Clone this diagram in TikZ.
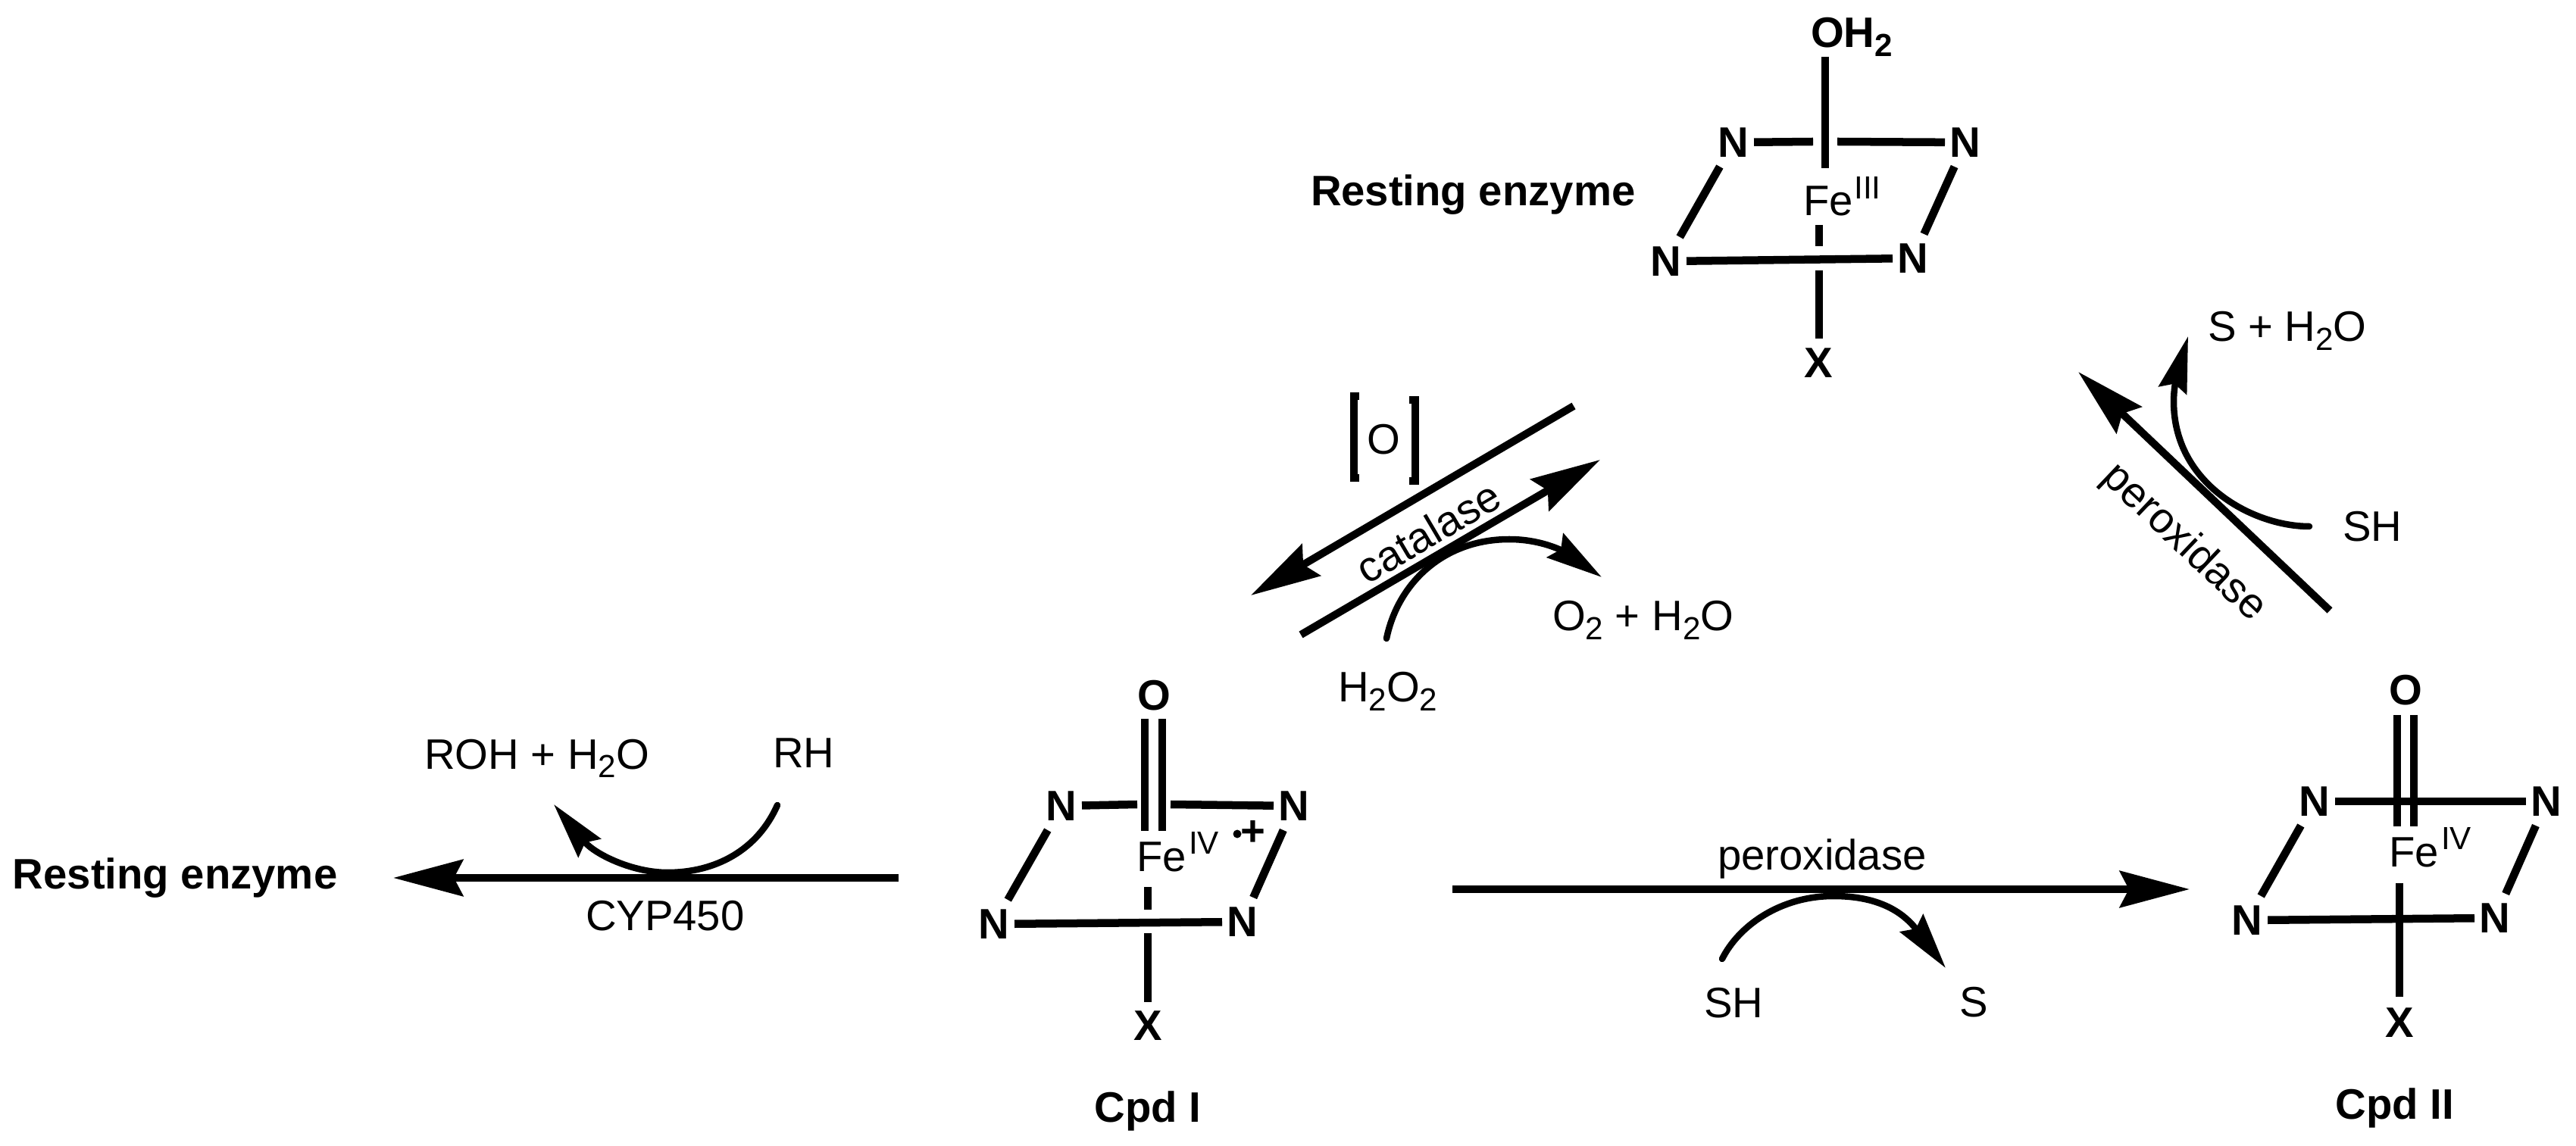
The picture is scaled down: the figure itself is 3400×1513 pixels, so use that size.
\documentclass[tikz,border=0pt]{standalone}
\usepackage{fontspec}
\setmainfont{Liberation Sans}
\usetikzlibrary{arrows.meta}
\newcommand{\sbs}[1]{\raisebox{-3.4pt}{\fontsize{12}{12}\selectfont #1}}
\newcommand{\sps}[1]{\raisebox{6.3pt}{\fontsize{12}{12}\selectfont #1}}
\tikzset{
  txt/.style={inner sep=0pt,outer sep=0pt,font=\fontsize{16}{19}\selectfont},
  lab/.style={txt,anchor=base west},
  atom/.style={txt,font=\fontsize{16}{19}\selectfont\bfseries},
  blab/.style={atom,anchor=base west},
  nat/.style={atom,minimum width=.54cm,minimum height=.64cm},
  bond/.style={line width=.105cm,line cap=butt},
  rxn/.style={line width=.10cm,line cap=butt,-{Stealth[length=.92cm,width=.48cm,inset=.12cm]}},
  curved/.style={line width=.085cm,line cap=round,-{Stealth[length=.74cm,width=.38cm,inset=.09cm]}},
  brk/.style={line width=.10cm,line cap=butt,line join=miter}
}
\begin{document}
\begin{tikzpicture}[x=0.01cm,y=-0.01cm]
\fill[white] (0,0) rectangle (3400,1513);
\useasboundingbox (0,0) rectangle (3400,1513);

% ---------- Resting enzyme (top)
\node[blab] (rlabel) at (1730,272) {Resting enzyme};
\node[blab] (rO) at (2390,63) {OH\sbs{2}};
\node[nat] (rTL) at (2288,188) {N};
\node[nat] (rTR) at (2594,188) {N};
\node[nat] (rBL) at (2199,345) {N};
\node[nat] (rBR) at (2525,341) {N};
\node[lab] (rFe) at (2380,285) {Fe\hspace{.5pt}\sps{III}};
\node[atom] (rX) at (2400,479) {X};
\coordinate (rA1) at (2409,75);  \coordinate (rA2) at (2409,222);
\coordinate (rG1) at (2393,187); \coordinate (rG2) at (2425,187);
\coordinate (rB1) at (2401,297); \coordinate (rB2) at (2401,325);
\coordinate (rC1) at (2401,357); \coordinate (rC2) at (2401,447);
\draw[bond] (rA1) -- (rA2);
\draw[bond] (rTL) -- (rG1);
\draw[bond] (rG2) -- (rTR);
\draw[bond] (rTL) -- (rBL);
\draw[bond] (rTR) -- (rBR);
\draw[bond] (rBL) -- (rBR);
\draw[bond] (rB1) -- (rB2);
\draw[bond] (rC1) -- (rC2);

% ---------- Cpd I
\node[atom] (aO) at (1523,918) {O};
\node[nat] (aTL) at (1401,1064) {N};
\node[nat] (aTR) at (1708,1064) {N};
\node[nat] (aBL) at (1312,1220) {N};
\node[nat] (aBR) at (1640,1217) {N};
\node[lab] (aFe) at (1500,1150) {Fe\hspace{1pt}\sps{IV}};
\node[atom] (aX) at (1515,1354) {X};
\node[atom,anchor=base] (alabel) at (1515,1481) {Cpd I};
\node[atom] (aPlus) at (1654,1100) {+};
\node[circle,fill=black,inner sep=0pt,minimum size=.11cm] (aDot) at (1633,1101) {};
\coordinate (aD1t) at (1511,949); \coordinate (aD1b) at (1511,1097);
\coordinate (aD2t) at (1534,949); \coordinate (aD2b) at (1534,1097);
\coordinate (aG1) at (1501,1062); \coordinate (aG2) at (1545,1062);
\coordinate (aB1) at (1515,1171); \coordinate (aB2) at (1515,1201);
\coordinate (aC1) at (1515,1232); \coordinate (aC2) at (1515,1323);
\draw[bond] (aD1t) -- (aD1b);
\draw[bond] (aD2t) -- (aD2b);
\draw[bond] (aTL) -- (aG1);
\draw[bond] (aG2) -- (aTR);
\draw[bond] (aTL) -- (aBL);
\draw[bond] (aTR) -- (aBR);
\draw[bond] (aBL) -- (aBR);
\draw[bond] (aB1) -- (aB2);
\draw[bond] (aC1) -- (aC2);

% ---------- Cpd II
\node[atom] (bO) at (3175,911) {O};
\node[nat] (bTL) at (3055,1058) {N};
\node[nat] (bTR) at (3361,1058) {N};
\node[nat] (bBL) at (2966,1215) {N};
\node[nat] (bBR) at (3293,1212) {N};
\node[lab] (bFe) at (3153,1144) {Fe\hspace{1pt}\sps{IV}};
\node[atom] (bX) at (3167,1350) {X};
\node[atom,anchor=base] (blabel) at (3161,1477) {Cpd II};
\coordinate (bD1t) at (3164,944); \coordinate (bD1b) at (3164,1091);
\coordinate (bD2t) at (3186,944); \coordinate (bD2b) at (3186,1091);
\coordinate (bC1) at (3167,1166); \coordinate (bC2) at (3167,1316);
\draw[bond] (bD1t) -- (bD1b);
\draw[bond] (bD2t) -- (bD2b);
\draw[bond] (bTL) -- (bTR);
\draw[bond] (bTL) -- (bBL);
\draw[bond] (bTR) -- (bBR);
\draw[bond] (bBL) -- (bBR);
\draw[bond] (bC1) -- (bC2);

% ---------- CYP450 branch
\node[blab] (lrest) at (17,1173) {Resting enzyme};
\node[lab] (roh) at (560,1015) {ROH + H\sbs{2}O};
\node[lab] (rh) at (1020,1013) {RH};
\node[lab] (cyp) at (773,1228) {CYP450};
\coordinate (c1s) at (1186,1159); \coordinate (c1e) at (519,1159);
\draw[rxn] (c1s) -- (c1e);
\coordinate (c2s) at (1026,1063); \coordinate (c2m) at (881,1152); \coordinate (c2e) at (731,1062);
\draw[curved] (c2s) .. controls (1000,1122) and (945,1152) .. (c2m) .. controls (835,1152) and (785,1128) .. (c2e);

% ---------- horizontal peroxidase branch
\node[txt,anchor=base] (plab) at (2405,1148) {peroxidase};
\node[lab] (sh1) at (2249,1343) {SH};
\node[lab] (s1) at (2586,1342) {S};
\coordinate (p1s) at (1917,1174); \coordinate (p1e) at (2890,1174);
\draw[rxn] (p1s) -- (p1e);
\coordinate (p2s) at (2273,1266); \coordinate (p2m) at (2420,1183); \coordinate (p2e) at (2568,1278);
\draw[curved] (p2s) .. controls (2295,1222) and (2350,1183) .. (p2m) .. controls (2465,1183) and (2505,1195) .. (p2e);

% ---------- catalase branch
\node[txt,rotate=30.5] (cat) at (1885,702) {catalase};
\node[txt] (oo) at (1826,580) {O};
\node[lab] (h2o2) at (1766,927) {H\sbs{2}O\sbs{2}};
\node[lab] (o2h2o) at (2049,833) {O\sbs{2} + H\sbs{2}O};
\coordinate (k1s) at (2077,536); \coordinate (k1e) at (1651,786);
\coordinate (k2s) at (1717,838); \coordinate (k2e) at (2112,607);
\draw[rxn] (k1s) -- (k1e);
\draw[rxn] (k2s) -- (k2e);
\coordinate (k3s) at (1830,843); \coordinate (k3m) at (1992,712); \coordinate (k3e) at (2114,762);
\draw[curved] (k3s) .. controls (1845,770) and (1905,712) .. (k3m) .. controls (2040,712) and (2070,732) .. (k3e);
\draw[brk] (1794,523) -- (1786.5,523) -- (1786.5,631) -- (1794,631);
\draw[brk] (1860,528) -- (1867.5,528) -- (1867.5,635) -- (1860,635);

% ---------- diagonal peroxidase branch
\node[txt,rotate=-43.5] (pr) at (2882,717) {peroxidase};
\node[lab] (sh2) at (3092,715) {SH};
\node[lab] (sh2o) at (2914,451) {S + H\sbs{2}O};
\coordinate (d1s) at (3075,806); \coordinate (d1e) at (2743,491);
\draw[rxn] (d1s) -- (d1e);
\coordinate (d2s) at (3048,695); \coordinate (d2m) at (2869,530); \coordinate (d2e) at (2888,444);
\draw[curved] (d2s) .. controls (2975,695) and (2869,640) .. (d2m) .. controls (2869,500) and (2880,472) .. (d2e);
\end{tikzpicture}
\end{document}
